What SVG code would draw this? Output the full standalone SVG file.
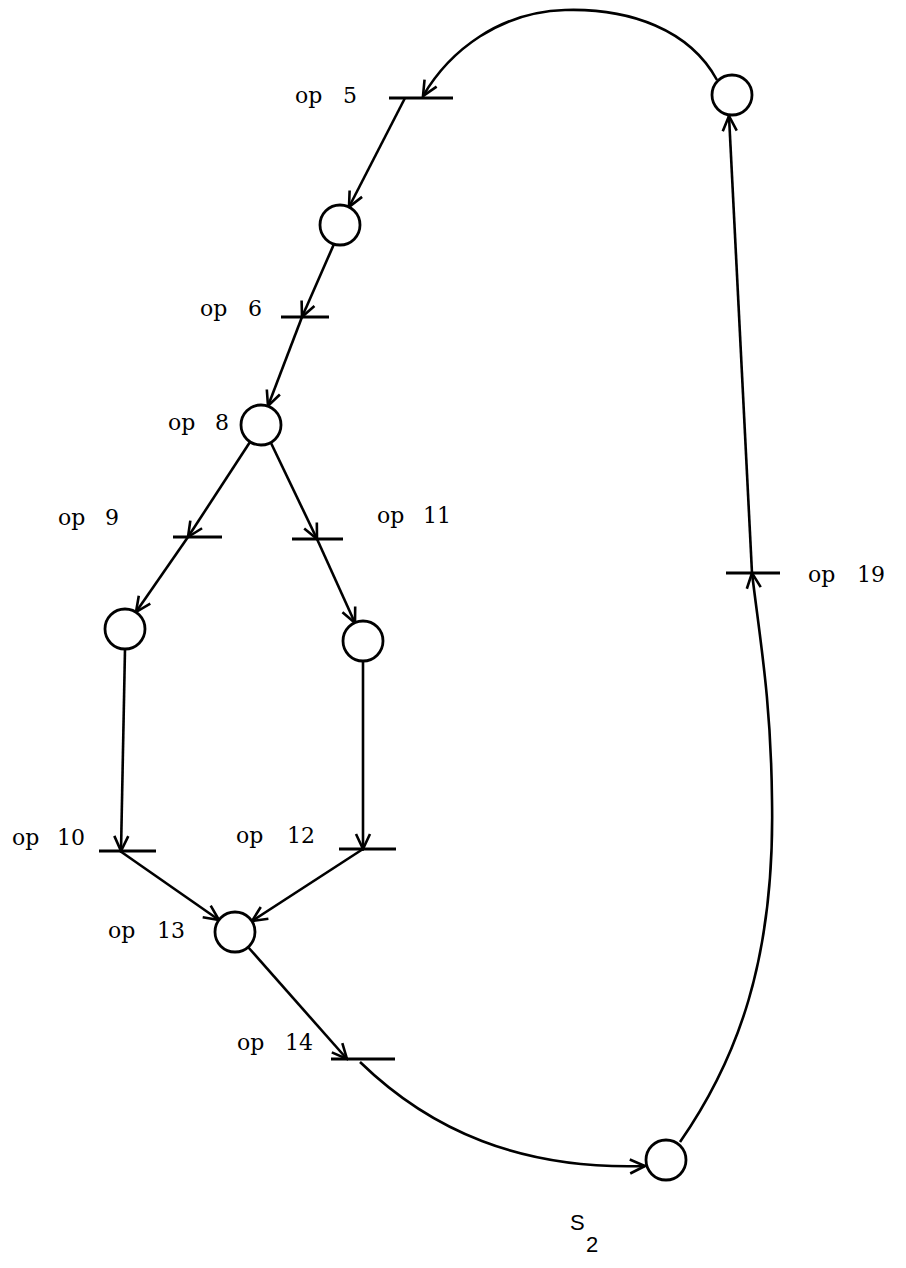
<svg xmlns="http://www.w3.org/2000/svg" width="906" height="1268" viewBox="0 0 906 1268">
<style>
.bg{fill:#fff}
.node{fill:#fff;stroke:#000;stroke-width:2.8}
.bar{stroke:#000;stroke-width:2.8;fill:none}
.edge{stroke:#000;stroke-width:2.6;fill:none;marker-end:url(#arr)}
.lbl{font-family:"DejaVu Serif","Liberation Serif",serif;font-size:22px;fill:#000}
.cap{font-family:"Liberation Sans","DejaVu Sans",sans-serif;font-size:22px;fill:#000}
</style>
<defs>
<marker id="arr" markerUnits="userSpaceOnUse" viewBox="-17 -9 19 18" markerWidth="19" markerHeight="18" refX="0" refY="0" orient="auto">
<path d="M-15,-7 L0,0 L-15,7" fill="none" stroke="#000" stroke-width="2.6"/>
</marker>
</defs>
<rect class="bg" width="906" height="1268"/>
<g id="connectors">
<path class="edge" d="M717,80 C690,30 630,8 565,10 C500,12 450,50 423,96"/>
<path class="edge" d="M405,98 L349,207"/>
<path class="edge" d="M334,244 L302,317"/>
<path class="edge" d="M302,317 L268,406"/>
<path class="edge" d="M250,442 L188,537"/>
<path class="edge" d="M188,537 L136,612"/>
<path class="edge" d="M271,443 L317,539"/>
<path class="edge" d="M317,539 L355,623"/>
<path class="edge" d="M125,649 L121,851"/>
<path class="edge" d="M363,661 L363,849"/>
<path class="edge" d="M120,851 L219,920"/>
<path class="edge" d="M363,849 L252,921"/>
<path class="edge" d="M248,947 L347,1059"/>
<path class="edge" d="M360,1062 C430,1130 520,1170 645,1166"/>
<path class="edge" d="M680,1142 C737,1060 775,960 772,800 C771,700 760,640 752,573"/>
<path class="edge" d="M752,573 L729,116"/>
</g>
<g id="t_op5"><line class="bar" x1="389" y1="98" x2="453" y2="98"/><text class="lbl" x="295" y="103">op</text><text class="lbl" x="343" y="103">5</text></g>
<g id="t_op6"><line class="bar" x1="281" y1="317" x2="329" y2="317"/><text class="lbl" x="200" y="316">op</text><text class="lbl" x="248" y="316">6</text></g>
<g id="t_op9"><line class="bar" x1="173" y1="537" x2="222" y2="537"/><text class="lbl" x="58" y="525">op</text><text class="lbl" x="105" y="525">9</text></g>
<g id="t_op11"><line class="bar" x1="292" y1="539" x2="343" y2="539"/><text class="lbl" x="377" y="523">op</text><text class="lbl" x="423" y="523">11</text></g>
<g id="t_op10"><line class="bar" x1="99" y1="851" x2="156" y2="851"/><text class="lbl" x="12" y="845">op</text><text class="lbl" x="57" y="845">10</text></g>
<g id="t_op12"><line class="bar" x1="339" y1="849" x2="396" y2="849"/><text class="lbl" x="236" y="843">op</text><text class="lbl" x="287" y="843">12</text></g>
<g id="t_op14"><line class="bar" x1="331" y1="1059" x2="395" y2="1059"/><text class="lbl" x="237" y="1050">op</text><text class="lbl" x="285" y="1050">14</text></g>
<g id="t_op19"><line class="bar" x1="726" y1="573" x2="780" y2="573"/><text class="lbl" x="808" y="582">op</text><text class="lbl" x="857" y="582">19</text></g>
<g id="p_top"><circle class="node" cx="732" cy="95" r="20"/></g>
<g id="p_a"><circle class="node" cx="340" cy="225" r="20"/></g>
<g id="p_op8"><circle class="node" cx="261" cy="425" r="20"/><text class="lbl" x="168" y="430">op</text><text class="lbl" x="215" y="430">8</text></g>
<g id="p_b"><circle class="node" cx="125" cy="629" r="20"/></g>
<g id="p_c"><circle class="node" cx="363" cy="641" r="20"/></g>
<g id="p_op13"><circle class="node" cx="235" cy="932" r="20"/><text class="lbl" x="108" y="938">op</text><text class="lbl" x="157" y="938">13</text></g>
<g id="p_bottom"><circle class="node" cx="666" cy="1160" r="20"/></g>
<g id="caption"><text class="cap" x="570" y="1230">S</text><text class="cap" x="586" y="1252">2</text></g>
</svg>
